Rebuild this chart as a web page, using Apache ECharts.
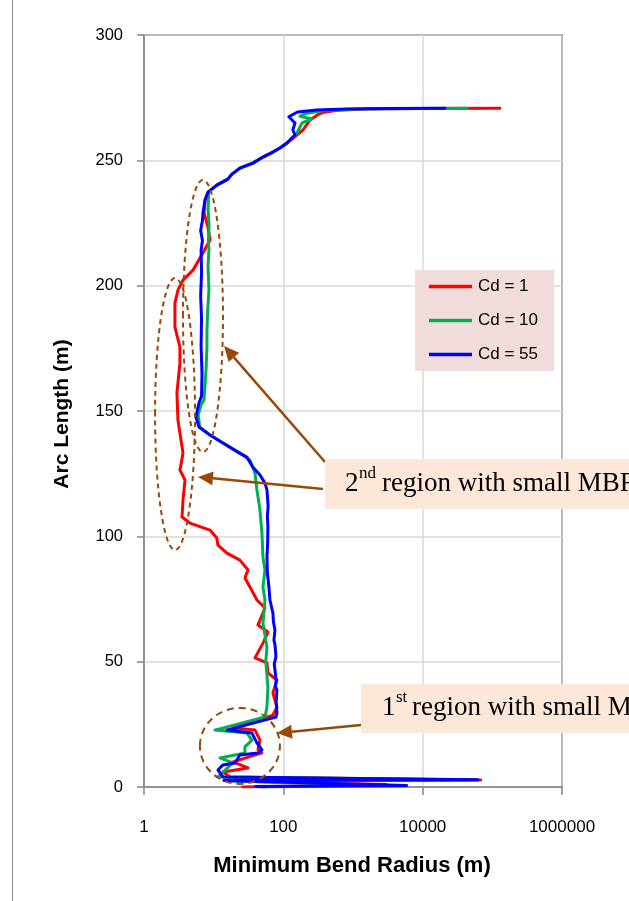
<!DOCTYPE html>
<html>
<head>
<meta charset="utf-8">
<script src="https://cdn.jsdelivr.net/npm/echarts@6/dist/echarts.min.js"></script>
<style>
  html, body { margin: 0; padding: 0; background: #ffffff; }
  #chart { width: 629px; height: 901px; }
</style>
</head>
<body>
<div id="chart"></div>
<script>
// Minimum bend radius (m) along the arc length (m) for three drag coefficients.
const seriesNames = ['Cd = 1', 'Cd = 10', 'Cd = 55'];
const seriesColors = ['#FF0000', '#00B050', '#0000FF'];
const xTicks = [1, 100, 10000, 1000000];
const yTicks = [0, 50, 100, 150, 200, 250, 300];

// [minimum bend radius, arc length]
const cd1 = [
  [128000, 270.8], [10000, 270.7], [1500, 270.5], [600, 270.0], [380, 269.2], [303, 268.0],
  [241, 266.0], [191, 262.1], [147, 259.5], [113, 256.9], [89.3, 254.9], [70.9, 253.3],
  [51.0, 251.3], [36.6, 248.9], [23.8, 246.9], [18.3, 244.5], [16.0, 242.5], [11.1, 240.1],
  [8.28, 237.3], [7.5, 234.1], [7.3, 229.0], [8.28, 223.3], [8.85, 218.2], [7.02, 213.0],
  [5.05, 206.2], [3.63, 202.2], [3.07, 198.2], [2.78, 193.1], [2.78, 183.5], [3.28, 175.5],
  [3.28, 169.1], [2.97, 157.2], [3.07, 146.4], [3.63, 133.2], [3.28, 126.4], [3.88, 122.5],
  [3.63, 114.5], [3.51, 107.7], [4.57, 105.3], [8.85, 102.5], [11.1, 99.3], [11.5, 96.5],
  [15.5, 93.3], [23.8, 90.5], [31.1, 86.6], [28.1, 83.4], [33.2, 79.8], [41.8, 74.6],
  [54.5, 71.4], [46.2, 66.6], [43.2, 64.6], [60.1, 61.8], [51.0, 57.4], [39.2, 51.5],
  [58.2, 49.5], [60.1, 45.5], [81.0, 42.7], [70.9, 37.5], [81.0, 31.9], [70.9, 28.7],
  [18.9, 23.5], [39.2, 22.7], [46.2, 18.7], [43.2, 14.8], [49.3, 13.6], [18.9, 10.0],
  [31.1, 7.6], [13.6, 6.0], [17.1, 4.0], [68000, 2.8], [20, 2.4], [3000, 1.0], [26, 0]
];
const cd10 = [
  [43000, 270.8], [8000, 270.7], [1200, 270.5], [400, 270.0], [220, 268.8], [173, 267.6],
  [257, 266.5], [185, 264.9], [157, 260.9], [113, 256.9], [89.3, 254.9], [70.9, 253.3],
  [51.0, 251.3], [36.6, 248.9], [23.8, 246.9], [18.3, 244.5], [16.0, 242.5], [11.1, 240.1],
  [8.5, 237.3], [8.3, 230.7], [8.6, 224.0], [8.4, 218.0], [8.56, 214.2], [8.3, 208.0],
  [8.56, 198.2], [8.2, 190.0], [8.02, 182.3], [8.0, 175.0], [7.76, 166.3], [7.5, 160.0],
  [7.26, 154.4], [6.6, 152.5], [6.0, 148.5], [6.3, 143.6], [8.85, 140.4], [13.6, 137.2],
  [22.3, 133.6], [26.3, 132.4], [33.2, 130.3], [39.2, 125.2], [41.8, 118.5], [46.2, 110.5],
  [49.3, 101.3], [51.0, 91.7], [54.5, 86.6], [51.0, 79.8], [54.5, 74.6], [51.0, 65.4],
  [58.2, 55.8], [56.0, 50.0], [60.1, 39.9], [58.2, 31.9], [54.5, 27.9], [10.4, 22.7],
  [30.0, 21.5], [35.4, 18.7], [28.1, 16.0], [28.1, 13.6], [12.3, 11.6], [18.9, 9.6],
  [13.2, 5.6], [11.5, 4.0], [50000, 2.8], [15, 2.5], [2500, 0.7], [51, 0]
];
const cd55 = [
  [20900, 270.8], [3000, 270.7], [800, 270.5], [300, 270.1], [160, 269.3], [120, 267.4],
  [147, 264.9], [137, 262.1], [147, 260.1], [113, 256.9], [89.3, 254.9], [70.9, 253.3],
  [51.0, 251.3], [36.6, 248.9], [23.8, 246.9], [18.3, 244.5], [16.0, 242.5], [11.1, 240.1],
  [8.28, 237.3], [7.5, 234.1], [7.02, 229.0], [6.9, 226.0], [6.5, 222.0], [6.9, 218.0],
  [6.6, 214.0], [6.7, 205.0], [6.5, 196.0], [6.7, 187.0], [6.6, 176.0], [6.8, 165.0],
  [6.7, 156.0], [6.15, 153.2], [5.57, 147.6], [6.15, 143.6], [8.85, 140.4], [13.6, 137.2],
  [22.3, 133.6], [30.0, 131.6], [36.6, 127.6], [46.2, 124.5], [54.5, 121.3], [58.2, 118.5],
  [60.5, 112.0], [59.0, 108.0], [60.1, 103.7], [59.5, 97.0], [58.2, 92.0], [59.0, 85.4],
  [62.0, 80.0], [64.2, 74.6], [70.9, 69.4], [72.0, 66.0], [75.8, 62.6], [73.3, 58.6],
  [76.0, 56.6], [78.3, 51.9], [74.0, 49.0], [75.8, 46.7], [79.0, 42.5], [77.0, 40.0],
  [81.0, 38.7], [79.0, 34.0], [81.0, 29.5], [78.3, 27.9], [15.5, 22.7], [35.4, 21.5],
  [41.8, 17.6], [49.3, 14.8], [43.2, 13.6], [23.8, 12.8], [20.2, 9.6], [13.6, 8.8],
  [11.5, 6.8], [13.6, 4.0], [62000, 2.9], [14, 2.6], [5900, 0.6], [40, 0.2], [55, 0]
];
const seriesData = [cd1, cd10, cd55];

const BROWN = '#984807';
const GRID = { left: 144, right: 67, top: 35, bottom: 114 };

const chart = echarts.init(document.getElementById('chart'), null, { renderer: 'canvas' });

const option = {
  animation: false,
  backgroundColor: '#ffffff',
  grid: {
    left: GRID.left, right: GRID.right, top: GRID.top, bottom: GRID.bottom,
    show: true, borderColor: '#262626', borderWidth: 1.5, backgroundColor: 'transparent'
  },
  legend: {
    data: seriesNames,
    orient: 'vertical',
    left: 429, top: 278,
    icon: 'rect',
    itemWidth: 43, itemHeight: 3.5, itemGap: 17,
    padding: 0,
    textStyle: { fontFamily: 'Liberation Sans', fontSize: 17, color: '#000', padding: [0, 0, 0, 1] },
    z: 6
  },
  xAxis: {
    type: 'log', logBase: 10,
    min: xTicks[0], max: xTicks[xTicks.length - 1], interval: 2,
    axisLine: { show: true, lineStyle: { color: '#868686', width: 1.5 } },
    axisTick: { show: true, length: 8, lineStyle: { color: '#868686', width: 1.5 } },
    axisLabel: {
      margin: 32, fontFamily: 'Liberation Sans', fontSize: 17, color: '#000',
      formatter: v => {
        const r = Math.round(v);
        return xTicks.indexOf(r) >= 0 ? String(r) : '';
      }
    },
    splitLine: { show: true, lineStyle: { color: '#D9D9D9', width: 1.5 } },
    minorTick: { show: false }, minorSplitLine: { show: false }
  },
  yAxis: {
    type: 'value',
    min: yTicks[0], max: yTicks[yTicks.length - 1], interval: yTicks[1] - yTicks[0],
    axisLine: { show: true, lineStyle: { color: '#868686', width: 1.5 } },
    axisTick: { show: true, length: 7, lineStyle: { color: '#868686', width: 1.5 } },
    axisLabel: { margin: 21, fontFamily: 'Liberation Sans', fontSize: 16.5, color: '#000' },
    splitLine: { show: true, lineStyle: { color: '#D9D9D9', width: 1.5 } }
  },
  series: seriesNames.map((name, i) => ({
    name, type: 'line', data: seriesData[i],
    symbol: 'none', smooth: false,
    lineStyle: { color: seriesColors[i], width: 3, join: 'round', cap: 'round' },
    itemStyle: { color: seriesColors[i] },
    z: 2 + i
  }))
};
chart.setOption(option);

// Annotations: dashed outlines around the small-radius regions, callouts and arrows.
const toPx = p => chart.convertToPixel({ gridIndex: 0 }, p);
const outlines = [
  { at: [2.79, 148.8], rx: 20, ry: 136, dash: [5, 4] },
  { at: [7.02, 187.9], rx: 20, ry: 136, dash: [5, 4] },
  { at: [23.8, 16.4], rx: 40, ry: 38, dash: [7, 5] }
];
const arrows = [
  { from: [325, 462], to: [14.1, 175.9] },
  { from: [323, 489], to: [5.95, 123.7] },
  { from: [361, 725], to: [81, 21.5] }
];

const graphics = [];
// frame edge on the left
graphics.push({ type: 'line', shape: { x1: 12.5, y1: 0, x2: 12.5, y2: 901 },
  style: { stroke: '#8c8c8c', lineWidth: 1 }, z: 1 });
// legend background
graphics.push({ type: 'rect', shape: { x: 415, y: 270, width: 139, height: 101 },
  style: { fill: '#F2DCDB' }, z: 5 });

outlines.forEach(o => {
  const c = toPx(o.at);
  graphics.push({ type: 'ellipse', shape: { cx: c[0], cy: c[1], rx: o.rx, ry: o.ry },
    style: { fill: 'none', stroke: BROWN, lineWidth: 2, lineDash: o.dash }, z: 8 });
});

arrows.forEach(a => {
  const t = toPx(a.to);
  const f = a.from;
  const dx = t[0] - f[0], dy = t[1] - f[1];
  const len = Math.sqrt(dx * dx + dy * dy);
  const ux = dx / len, uy = dy / len;
  const L = 15, W = 7;
  const bx = t[0] - ux * L, by = t[1] - uy * L;
  graphics.push({ type: 'line', shape: { x1: f[0], y1: f[1], x2: bx, y2: by },
    style: { stroke: BROWN, lineWidth: 2.5 }, z: 9 });
  graphics.push({ type: 'polygon', shape: { points: [
    [t[0], t[1]], [bx - uy * W, by + ux * W], [bx + uy * W, by - ux * W]
  ] }, style: { fill: BROWN }, z: 9 });
});

// callout boxes
const callouts = [
  { box: [325, 459, 320, 50], num: '2', sup: 'nd', text: 'region with small MBR',
    numX: 345, supX: 359, textX: 382, midY: 484, supY: 474 },
  { box: [361, 684, 290, 49], num: '1', sup: 'st', text: 'region with small MBR',
    numX: 382, supX: 396, textX: 412, midY: 708, supY: 698 }
];
callouts.forEach(c => {
  graphics.push({ type: 'rect', shape: { x: c.box[0], y: c.box[1], width: c.box[2], height: c.box[3] },
    style: { fill: '#FCE7D8' }, z: 10 });
  const main = { fontFamily: 'Liberation Serif', fontSize: 27, fill: '#000', verticalAlign: 'middle', align: 'left' };
  graphics.push({ type: 'text', x: c.numX, y: c.midY, style: Object.assign({ text: c.num }, main), z: 11 });
  graphics.push({ type: 'text', x: c.supX, y: c.supY,
    style: { text: c.sup, fontFamily: 'Liberation Serif', fontSize: 17, fill: '#000', verticalAlign: 'middle', align: 'left' }, z: 11 });
  graphics.push({ type: 'text', x: c.textX, y: c.midY, style: Object.assign({ text: c.text }, main), z: 11 });
});

// axis titles
graphics.push({ type: 'text', x: 62, y: 414, rotation: Math.PI / 2,
  style: { text: 'Arc Length (m)', fontFamily: 'Liberation Sans', fontWeight: 'bold', fontSize: 21,
    fill: '#000', align: 'center', verticalAlign: 'middle' }, z: 11 });
graphics.push({ type: 'text', x: 352, y: 866,
  style: { text: 'Minimum Bend Radius (m)', fontFamily: 'Liberation Sans', fontWeight: 'bold', fontSize: 22,
    fill: '#000', align: 'center', verticalAlign: 'middle' }, z: 11 });

chart.setOption({ graphic: { elements: graphics } });
</script>
</body>
</html>
